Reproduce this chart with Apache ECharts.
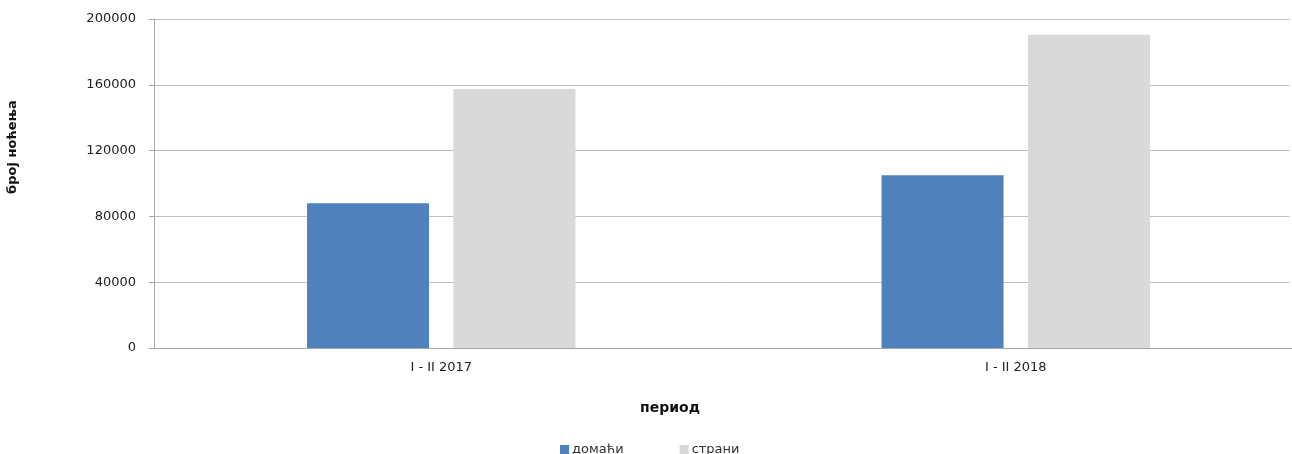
<!DOCTYPE html>
<html>
<head>
<meta charset="utf-8">
<script src="https://cdn.jsdelivr.net/npm/echarts@6/dist/echarts.min.js"></script>
<style>
html,body{margin:0;padding:0;background:#fff;}
#chart{width:1292px;height:454px;}
</style>
</head>
<body>
<div id="chart"></div>
<script>
const categories = ['I - II 2017', 'I - II 2018'];
const seriesNames = ['домаћи', 'страни'];
const domestic = [88000, 105000];
const foreign = [157500, 190500];
const yTicks = [0, 40000, 80000, 120000, 160000, 200000];
const xAxisTitle = 'период';
const yAxisTitle = 'број ноћења';

const FONT = 'DejaVu Sans';
const chart = echarts.init(document.getElementById('chart'), null, {renderer: 'canvas'});
chart.setOption({
  animation: false,
  backgroundColor: '#ffffff',
  textStyle: {fontFamily: FONT},
  grid: {show: false, borderWidth: 0, left: 154, top: 19, height: 329, width: 1149, containLabel: false, outerBoundsMode: 'none'},
  legend: {
    data: seriesNames,
    left: 555,
    top: 438,
    itemWidth: 9,
    itemHeight: 9,
    itemGap: 56,
    icon: 'rect',
    textStyle: {fontFamily: FONT, fontSize: 13, color: '#333', padding: [0, 0, 0, -2]}
  },
  xAxis: {
    type: 'category',
    data: categories,
    axisLine: {show: true, lineStyle: {color: '#A6A6A6', width: 1}},
    axisTick: {show: false},
    axisLabel: {fontFamily: FONT, fontSize: 13, color: '#222', margin: 13},
    splitLine: {show: false},
    splitArea: {show: false}
  },
  yAxis: {
    type: 'value',
    min: yTicks[0],
    max: yTicks[yTicks.length - 1],
    interval: yTicks[1] - yTicks[0],
    axisLine: {show: true, lineStyle: {color: '#A6A6A6', width: 1}},
    axisTick: {show: true, length: 5, lineStyle: {color: '#A6A6A6'}},
    axisLabel: {fontFamily: FONT, fontSize: 13, color: '#222', margin: 18,
      formatter: function (v) { return String(v); }},
    splitLine: {show: true, lineStyle: {color: '#C0C0C0', width: 1}},
    splitArea: {show: false}
  },
  graphic: [
    {type: 'rect', z: 100, shape: {x: 1289.5, y: 17, width: 4, height: 330}, style: {fill: '#ffffff'}},
    {type: 'text', x: 670, y: 401, style: {text: xAxisTitle, font: 'bold 14px "DejaVu Sans"', fill: '#111', textAlign: 'center'}},
    {type: 'text', x: 13, y: 147, rotation: Math.PI / 2,
     style: {text: yAxisTitle, font: 'bold 13px "DejaVu Sans"', fill: '#111', textAlign: 'center', verticalAlign: 'middle'}}
  ],
  series: [
    {name: seriesNames[0], type: 'bar', data: domestic, barWidth: 122, barGap: '20%',
     itemStyle: {color: '#4F81BD'}},
    {name: seriesNames[1], type: 'bar', data: foreign, barWidth: 122,
     itemStyle: {color: '#D9D9D9'}}
  ]
});
</script>
</body>
</html>
